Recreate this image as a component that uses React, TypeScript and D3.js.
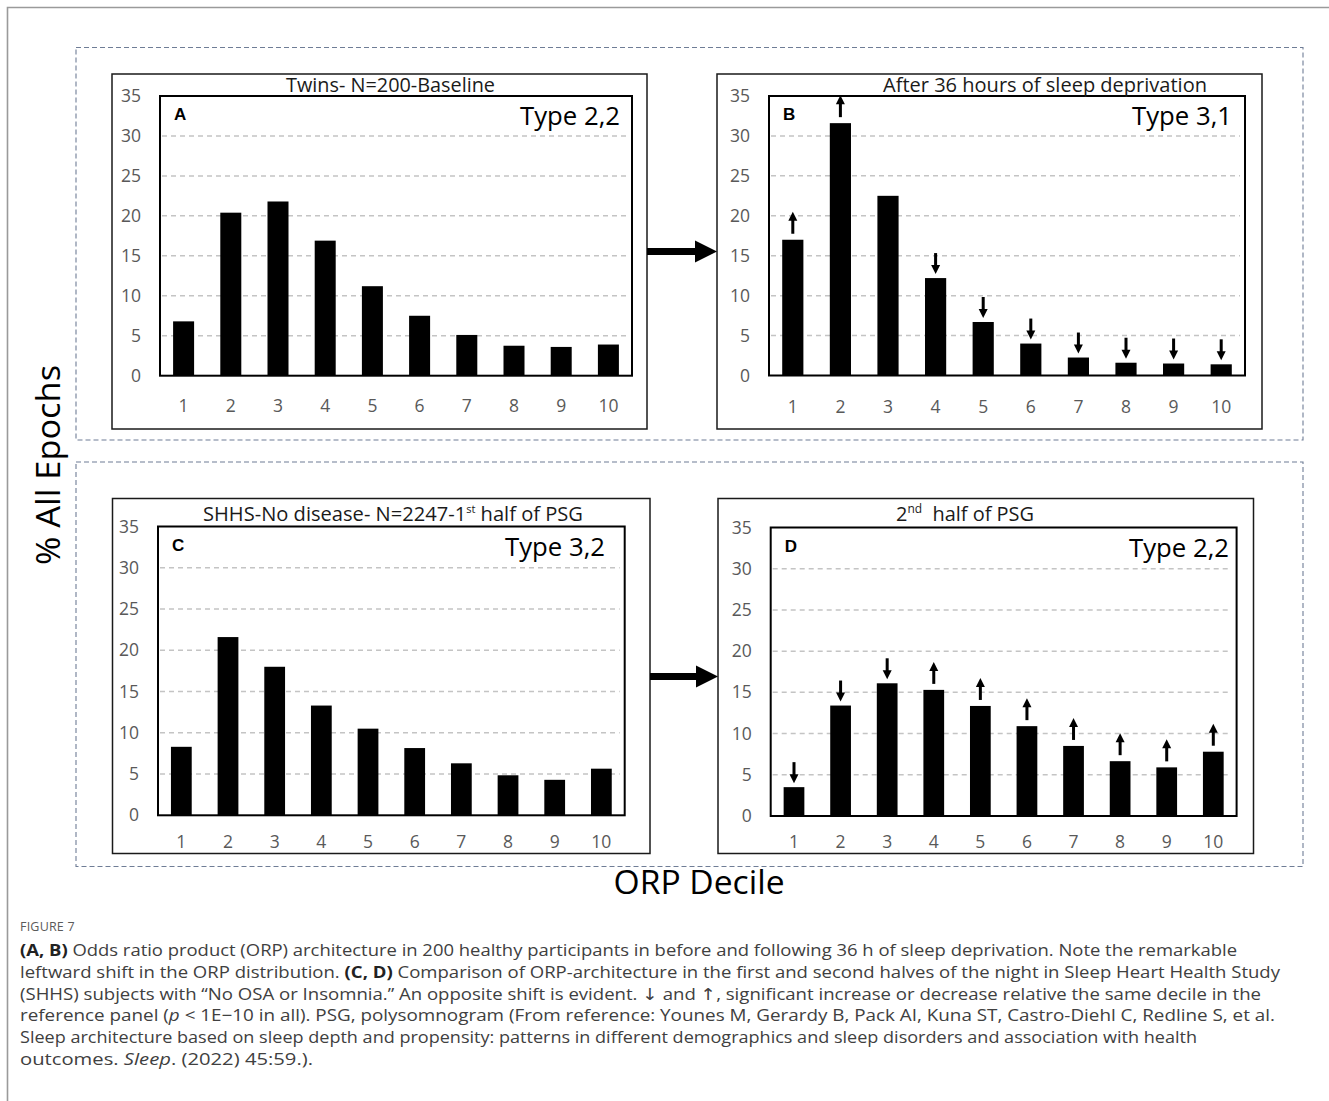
import React from "react";
import * as d3 from "d3";

// ORP deciles on the x axis and the shared percent ticks on the y axis
const deciles = ["1", "2", "3", "4", "5", "6", "7", "8", "9", "10"];
const percentTicks = [0, 5, 10, 15, 20, 25, 30, 35];

// % of all epochs in each ORP decile
const twinsBaseline = [6.8, 20.4, 21.8, 16.9, 11.2, 7.5, 5.1, 3.75, 3.6, 3.9];
const twinsDeprived = [17.0, 31.6, 22.5, 12.2, 6.7, 4.0, 2.25, 1.6, 1.5, 1.4];
const shhsFirstHalf = [8.3, 21.6, 18.0, 13.3, 10.5, 8.15, 6.3, 4.85, 4.3, 5.65];
const shhsSecondHalf = [3.5, 13.4, 16.1, 15.3, 13.35, 10.9, 8.5, 6.65, 5.9, 7.8];

// significant change versus the reference panel
const deprivedShift = ["up", "up", "none", "down", "down", "down", "down", "down", "down", "down"];
const secondHalfShift = ["down", "down", "down", "up", "up", "up", "up", "up", "up", "up"];

type Box = { x0: number; x1: number; y0: number; y1: number };

interface PanelProps {
  outer: Box;
  plot: Box;
  letter: string;
  typeLabel: string;
  typeX: number;
  title: React.ReactNode;
  titleX: number;
  titleY: number;
  titleLen: number;
  values: number[];
  shifts?: string[];
  xLabelY: number;
}

const TICK_FONT = "'Open Sans', 'DejaVu Sans', sans-serif";

function SigArrow({ cx, yTop, dir }: { cx: number; yTop: number; dir: string }) {
  if (dir === "up") {
    const base = yTop - 6;
    const tip = yTop - 28;
    return (
      <g fill="#000">
        <rect x={cx - 1.5} y={tip + 7} width={3} height={base - tip - 7} />
        <path d={`M${cx - 4.5},${tip + 9}L${cx + 4.5},${tip + 9}L${cx},${tip}Z`} />
      </g>
    );
  }
  if (dir === "down") {
    const tip = yTop - 4;
    const top = yTop - 25;
    return (
      <g fill="#000">
        <rect x={cx - 1.5} y={top} width={3} height={tip - 7 - top} />
        <path d={`M${cx - 4.5},${tip - 9}L${cx + 4.5},${tip - 9}L${cx},${tip}Z`} />
      </g>
    );
  }
  return null;
}

function Panel(p: PanelProps) {
  const x = d3
    .scaleBand<string>()
    .domain(deciles)
    .range([p.plot.x0, p.plot.x1])
    .paddingInner(0.555)
    .paddingOuter(0.2775);
  const y = d3.scaleLinear().domain([0, 35]).range([p.plot.y1, p.plot.y0]);

  return (
    <g>
      <rect
        x={p.outer.x0}
        y={p.outer.y0}
        width={p.outer.x1 - p.outer.x0}
        height={p.outer.y1 - p.outer.y0}
        fill="#fff"
        stroke="#1a1a1a"
        strokeWidth={1.5}
      />
      {/* dashed gridlines */}
      {percentTicks
        .filter((t) => t > 0 && t < 35)
        .map((t) => (
          <line
            key={t}
            x1={p.plot.x0 + 2}
            x2={p.plot.x1 - 5}
            y1={y(t)}
            y2={y(t)}
            stroke="#c4c4c4"
            strokeWidth={1.5}
            strokeDasharray="5,4"
          />
        ))}
      {/* y tick labels */}
      {percentTicks.map((t) => (
        <text
          key={t}
          x={p.plot.x0 - 19}
          y={y(t)}
          dy="0.35em"
          textAnchor="end"
          fontFamily={TICK_FONT}
          fontSize={17.5}
          fill="#595959"
        >
          {t}
        </text>
      ))}
      {/* x tick labels */}
      {deciles.map((d) => (
        <text
          key={d}
          x={(x(d) as number) + x.bandwidth() / 2}
          y={p.xLabelY}
          dy="0.35em"
          textAnchor="middle"
          fontFamily={TICK_FONT}
          fontSize={17.5}
          fill="#595959"
        >
          {d}
        </text>
      ))}
      {/* bars */}
      {p.values.map((v, i) => (
        <rect
          key={i}
          x={x(deciles[i]) as number}
          y={y(v)}
          width={x.bandwidth()}
          height={y(0) - y(v)}
          fill="#000"
        />
      ))}
      {p.shifts &&
        p.values.map((v, i) => (
          <SigArrow
            key={i}
            cx={(x(deciles[i]) as number) + x.bandwidth() / 2}
            yTop={y(v)}
            dir={p.shifts![i]}
          />
        ))}
      <rect
        x={p.plot.x0}
        y={p.plot.y0}
        width={p.plot.x1 - p.plot.x0}
        height={p.plot.y1 - p.plot.y0}
        fill="none"
        stroke="#000"
        strokeWidth={2}
      />
      <text
        x={p.titleX}
        y={p.titleY}
        textAnchor="middle"
        fontFamily={TICK_FONT}
        fontSize={20}
        fill="#1a1a1a"
        textLength={p.titleLen}
        lengthAdjust="spacingAndGlyphs"
        style={{ whiteSpace: "pre" }}
      >
        {p.title}
      </text>
      <text
        x={p.plot.x0 + 14}
        y={p.plot.y0 + 24}
        fontFamily="'Liberation Sans', Arial, sans-serif"
        fontWeight="bold"
        fontSize={17}
        fill="#000"
      >
        {p.letter}
      </text>
      <text
        x={p.typeX}
        y={p.plot.y0 + 29}
        textAnchor="end"
        fontFamily={TICK_FONT}
        fontSize={25}
        fill="#000"
        textLength={100}
        lengthAdjust="spacingAndGlyphs"
      >
        {p.typeLabel}
      </text>
    </g>
  );
}

function BigArrow({ x0, x1, yc }: { x0: number; x1: number; yc: number }) {
  const headLen = 22;
  return (
    <g fill="#000">
      <rect x={x0} y={yc - 3.5} width={x1 - headLen - x0 + 1} height={7} />
      <path d={`M${x1 - headLen},${yc - 11}L${x1},${yc}L${x1 - headLen},${yc + 11}Z`} />
    </g>
  );
}

const CAPTION_FONT = "'Open Sans', 'DejaVu Sans', sans-serif";

export default function App() {
  const captionLines: { content: React.ReactNode; end: number }[] = [
    {
      content: (
        <>
          <tspan fontWeight="bold" fill="#222">(A, B)</tspan>
          {" Odds ratio product (ORP) architecture in 200 healthy participants in before and following 36 h of sleep deprivation. Note the remarkable"}
        </>
      ),
      end: 1237,
    },
    {
      content: (
        <>
          {"leftward shift in the ORP distribution. "}
          <tspan fontWeight="bold" fill="#222">(C, D)</tspan>
          {" Comparison of ORP-architecture in the first and second halves of the night in Sleep Heart Health Study"}
        </>
      ),
      end: 1280,
    },
    {
      content:
        "(SHHS) subjects with \u201CNo OSA or Insomnia.\u201D An opposite shift is evident. \u2193 and \u2191, significant increase or decrease relative the same decile in the",
      end: 1261,
    },
    {
      content: (
        <>
          {"reference panel ("}
          <tspan fontStyle="italic">p</tspan>
          {" < 1E\u221210 in all). PSG, polysomnogram (From reference: Younes M, Gerardy B, Pack AI, Kuna ST, Castro-Diehl C, Redline S, et al."}
        </>
      ),
      end: 1275,
    },
    {
      content:
        "Sleep architecture based on sleep depth and propensity: patterns in different demographics and sleep disorders and association with health",
      end: 1197,
    },
    {
      content: (
        <>
          {"outcomes. "}
          <tspan fontStyle="italic">Sleep</tspan>
          {". (2022) 45:59.)."}
        </>
      ),
      end: 313,
    },
  ];
  const captionX = 20;

  return (
    <svg
      width={1329}
      height={1101}
      style={{ position: "absolute", left: 0, top: 0, background: "#fff" }}
    >
      <rect x={0} y={0} width={1329} height={1101} fill="#fff" />
      {/* card frame */}
      <path d="M7.5,1101V7.5H1329" fill="none" stroke="#9a9a9a" strokeWidth={1.6} />

      {/* dashed group boxes */}
      <rect x={76} y={47.5} width={1227} height={392.5} fill="none" stroke="#6f7d96" strokeWidth={1.1} strokeDasharray="5,3" />
      <rect x={76} y={462} width={1227} height={404.5} fill="none" stroke="#6f7d96" strokeWidth={1.1} strokeDasharray="5,3" />

      <Panel
        outer={{ x0: 112, x1: 647, y0: 74, y1: 429 }}
        plot={{ x0: 160, x1: 632, y0: 96, y1: 375.7 }}
        letter="A"
        typeLabel="Type 2,2"
        typeX={620}
        title="Twins- N=200-Baseline"
        titleX={390.5}
        titleY={91.5}
        titleLen={209}
        values={twinsBaseline}
        xLabelY={406}
      />
      <Panel
        outer={{ x0: 717, x1: 1262, y0: 74, y1: 429 }}
        plot={{ x0: 769, x1: 1245, y0: 96, y1: 375.5 }}
        letter="B"
        typeLabel="Type 3,1"
        typeX={1232}
        title="After 36 hours of sleep deprivation"
        titleX={1045}
        titleY={92}
        titleLen={324}
        values={twinsDeprived}
        shifts={deprivedShift}
        xLabelY={406.5}
      />
      <Panel
        outer={{ x0: 112.5, x1: 650, y0: 498.5, y1: 853.5 }}
        plot={{ x0: 158, x1: 624.7, y0: 526.5, y1: 815.3 }}
        letter="C"
        typeLabel="Type 3,2"
        typeX={605}
        title={
          <>
            {"SHHS-No disease- N=2247-1"}
            <tspan dy={-8} fontSize={11}>st</tspan>
            <tspan dy={8}>{" half of PSG"}</tspan>
          </>
        }
        titleX={393}
        titleY={520.5}
        titleLen={380}
        values={shhsFirstHalf}
        xLabelY={841.5}
      />
      <Panel
        outer={{ x0: 718, x1: 1253.5, y0: 498.5, y1: 853.5 }}
        plot={{ x0: 770.7, x1: 1236.6, y0: 527.5, y1: 816 }}
        letter="D"
        typeLabel="Type 2,2"
        typeX={1229}
        title={
          <>
            {"2"}
            <tspan dy={-8} fontSize={12}>nd</tspan>
            <tspan dy={8}>{"  half of PSG"}</tspan>
          </>
        }
        titleX={965}
        titleY={520.5}
        titleLen={138}
        values={shhsSecondHalf}
        shifts={secondHalfShift}
        xLabelY={841.5}
      />

      <BigArrow x0={647} x1={717} yc={251.5} />
      <BigArrow x0={650} x1={718} yc={676.5} />

      {/* shared axis titles */}
      <text
        transform="translate(60,465) rotate(-90)"
        textAnchor="middle"
        fontFamily={TICK_FONT}
        fontSize={33}
        fill="#000"
        textLength={200}
        lengthAdjust="spacingAndGlyphs"
      >
        % All Epochs
      </text>
      <text
        x={699}
        y={894}
        textAnchor="middle"
        fontFamily={TICK_FONT}
        fontSize={32}
        fill="#000"
        textLength={171}
        lengthAdjust="spacingAndGlyphs"
      >
        ORP Decile
      </text>

      {/* figure caption */}
      <text x={captionX} y={931} fontFamily={CAPTION_FONT} fontSize={12.5} fill="#5a5a5a" letterSpacing={0.2}>
        FIGURE 7
      </text>
      {captionLines.map((l, i) => (
        <text
          key={i}
          x={captionX}
          y={956 + i * 21.8}
          fontFamily={CAPTION_FONT}
          fontSize={16.5}
          fill="#404040"
          textLength={l.end - captionX}
          lengthAdjust="spacingAndGlyphs"
        >
          {l.content}
        </text>
      ))}
    </svg>
  );
}
